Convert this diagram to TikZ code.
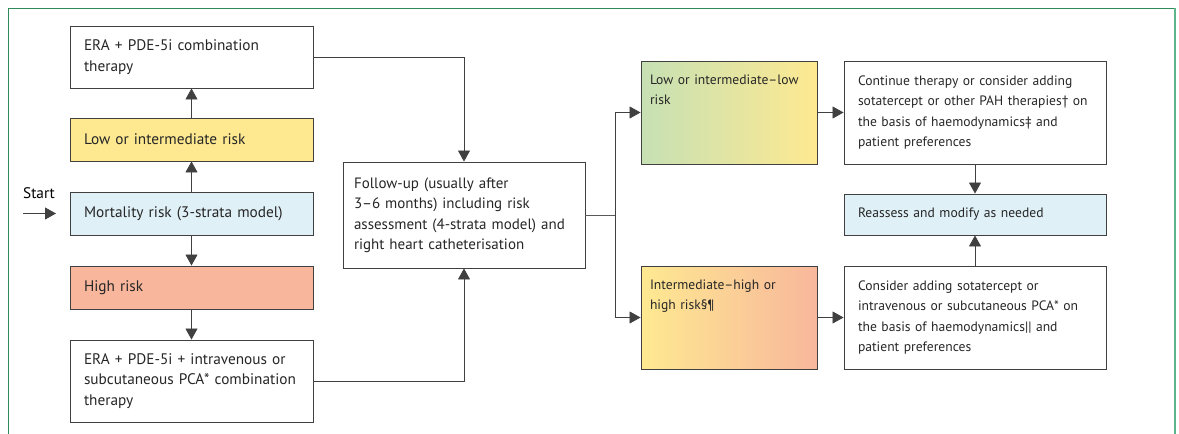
\documentclass[tikz,border=0pt]{standalone}
\usepackage{fontspec}
\setmainfont{PT Sans}
\usepackage{xcolor}
\usepackage{tikz}
\usetikzlibrary{arrows.meta,positioning}

\definecolor{riskyellow}{HTML}{FEE991}
\definecolor{riskblue}{HTML}{DFF0F7}
\definecolor{risksalmon}{HTML}{F8B79C}
\definecolor{riskgreen}{HTML}{C6E0B4}
\definecolor{framegreen}{HTML}{2F8A5C}
\definecolor{frameside}{HTML}{5DB58C}

\begin{document}
\begin{tikzpicture}[
    x=1pt, y=-1pt,
    font=\fontsize{15.3}{20.5}\selectfont,
    box/.style={draw=black!75, line width=0.9pt, align=left, inner xsep=14pt,
                inner ysep=0pt, text=black!85},
    leftbox/.style={box, text width=215pt},
    riskbox/.style={box, text width=158pt, inner xsep=9pt, minimum height=103pt,
                    font=\fontsize{13.6}{20.5}\selectfont},
    actbox/.style={box, text width=234pt, font=\fontsize{13.6}{20.5}\selectfont},
    arrow/.style={-{Triangle[length=11pt,width=12pt]}, line width=0.8pt, black!75},
    link/.style={line width=0.8pt, black!65},
  ]
    \useasboundingbox (0,0) rectangle (1179,434);
    \draw[framegreen, line width=1pt] (8,440) |- (1175,8);
    \draw[frameside, line width=2pt] (1175,8) -- (1175,440);

    % left column
    \node[leftbox, minimum height=62pt] (era)    at (191.5,57)    {ERA + PDE-5i combination\\therapy};
    \node[leftbox, minimum height=43pt, fill=riskyellow] (low)  at (191.5,139.5) {Low or intermediate risk};
    \node[leftbox, minimum height=43pt, fill=riskblue]   (mort) at (191.5,213.5) {Mortality risk (3-strata model)};
    \node[leftbox, minimum height=43pt, fill=risksalmon] (high) at (191.5,287.5) {High risk};
    \node[leftbox, minimum height=82pt] (erapca) at (191.5,381)   {ERA + PDE-5i + intravenous or\\subcutaneous PCA* combination\\therapy};

    \node (start) at (39,193) {Start};
    \coordinate (startin)  at (23,213.5);
    \coordinate (startout) at (56,213.5);
    \draw[arrow] (startin) -- (startout);

    \draw[arrow] (mort) -- (low);
    \draw[arrow] (low)  -- (era);
    \draw[arrow] (mort) -- (high);
    \draw[arrow] (high) -- (erapca);

    % follow-up
    \node[box, text width=220pt, inner xsep=11pt, minimum height=106pt,
          font=\fontsize{15}{20.5}\selectfont] (follow) at (464,215)
      {Follow-up (usually after\\3--6 months) including risk\\assessment (4-strata model) and\\right heart catheterisation};

    \draw[arrow] (era.east)    -| (follow.north);
    \draw[arrow] (erapca.east) -| (follow.south);

    % right side
    \node[riskbox, shading=axis, left color=riskgreen, right color=riskyellow] (lowlow) at (729,112.5)
      {\parbox[c][76pt][t]{158pt}{Low or intermediate--low\\risk}};
    \node[riskbox, shading=axis, left color=riskyellow, right color=risksalmon] (highhigh) at (729,317.5)
      {\parbox[c][76pt][t]{158pt}{Intermediate--high or\\high risk§¶}};

    \node[actbox, minimum height=103pt] (cont) at (975,112.5)
      {Continue therapy or consider adding\\sotatercept or other PAH therapies† on\\the basis of haemodynamics‡ and\\patient preferences};
    \node[actbox, minimum height=41pt, fill=riskblue] (reass) at (975,214.5) {Reassess and modify as needed};
    \node[actbox, minimum height=103pt] (cons) at (975,317.5)
      {Consider adding sotatercept or\\intravenous or subcutaneous PCA* on\\the basis of haemodynamics|| and\\patient preferences};

    \coordinate (split) at (615,215);
    \draw[link] (follow.east) -- (split);
    \draw[arrow] (split) |- (lowlow.west);
    \draw[arrow] (split) |- (highhigh.west);

    \draw[arrow] (lowlow)   -- (cont);
    \draw[arrow] (highhigh) -- (cons);
    \draw[arrow] (cont) -- (reass);
    \draw[arrow] (cons) -- (reass);
  \end{tikzpicture}
\end{document}
